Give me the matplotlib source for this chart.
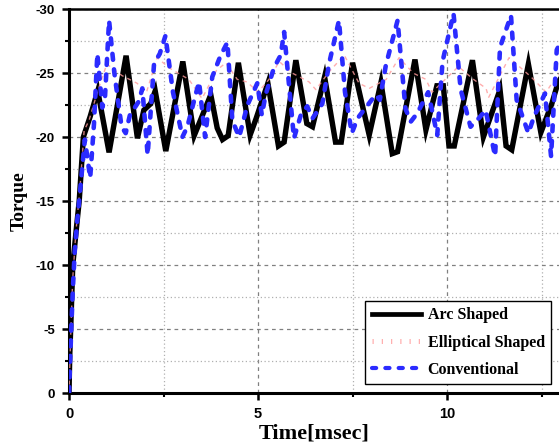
import matplotlib
matplotlib.use("Agg")
import matplotlib.pyplot as plt
from matplotlib.lines import Line2D
from matplotlib.ticker import MultipleLocator

# ---- data ----
arc_x = [0, 0.02, 0.05, 0.1, 0.2, 0.27, 0.38, 0.56, 0.76, 1.06, 1.51, 1.81, 1.98, 2.16, 2.28,
         2.56, 3.01, 3.31, 3.53, 3.75, 3.92, 4.06, 4.21, 4.48, 4.79, 4.95, 5.26, 5.54, 5.69,
         6.0, 6.29, 6.44, 6.76, 7.05, 7.2, 7.5, 7.94, 8.25, 8.55, 8.69, 9.15, 9.44, 9.73, 9.9,
         10.05, 10.19, 10.67, 10.96, 11.4, 11.56, 11.71, 12.15, 12.48, 12.77, 12.94, 13.1]
arc_y = [0, -3, -5.5, -10, -13, -15, -20, -21.6, -23.6, -18.8, -26.35, -19.9, -22.1, -22.6, -23.6,
         -18.9, -25.9, -20.1, -21.7, -23.3, -20.7, -19.8, -20.1, -25.8, -20.15, -21.45, -24.2, -19.3, -19.6,
         -26.0, -21.05, -20.8, -24.7, -19.6, -19.6, -25.8, -20.15, -24.25, -18.7, -18.85, -26.05, -20.55, -24.0, -24.0,
         -19.3, -19.3, -26.0, -20.0, -23.7, -19.3, -19.0, -25.7, -20.35, -22.6, -24.3, -25.0]

ell_x = [0, 0.05, 0.1, 0.18, 0.29, 0.4, 0.53, 0.75, 1.0, 1.4, 1.8, 2.05, 2.33, 2.65, 3.17, 3.52,
         3.9, 4.15, 4.45, 4.71, 5.0, 5.29, 5.56, 5.9, 6.35, 6.53, 6.88, 7.28, 7.67, 7.94, 8.39,
         8.73, 9.1, 9.44, 9.6, 10.3, 10.7, 11.03, 11.1, 11.64, 12.22, 12.62, 12.88, 13.1]
ell_y = [0, -5, -9, -12.5, -16, -20.5, -21.3, -23.5, -25.7, -24.8, -24.2, -23.5, -26.2, -25.4, -24.5, -23.0,
         -25.2, -25.8, -24.5, -24.3, -23.5, -24.5, -25.9, -25.0, -24.3, -23.7, -25.1, -26.4, -24.2, -23.8, -24.5,
         -26.2, -25.0, -24.5, -23.5, -25.5, -24.5, -23.8, -23.1, -26.2, -24.7, -23.5, -24.7, -25.2]

conv_x = [0, 0.03, 0.06, 0.1, 0.15, 0.22, 0.3, 0.42, 0.56, 0.66, 0.75, 0.88, 0.95, 1.06, 1.2,
          1.39, 1.5, 1.61, 1.85, 1.94, 2.08, 2.25, 2.4, 2.55, 2.75, 3.0, 3.13, 3.33, 3.44, 3.6,
          3.79, 4.0, 4.19, 4.32, 4.5, 4.72, 4.98, 5.1, 5.2, 5.42, 5.6, 5.69, 5.95, 6.13, 6.3,
          6.44, 6.7, 6.88, 7.14, 7.3, 7.48, 7.63, 7.85, 8.11, 8.22, 8.38, 8.69, 8.9, 9.04, 9.21,
          9.5, 9.74, 9.88, 10.17, 10.36, 10.62, 10.85, 11.02, 11.15, 11.27, 11.4, 11.69, 11.84,
          12.15, 12.3, 12.59, 12.75, 12.9, 13.1]
conv_y = [0, -2.5, -5, -8, -11, -13.5, -16, -19.8, -16.8, -21, -26.5, -22.3, -23, -29.1, -25,
          -20.8, -20.3, -21.7, -22.8, -23.8, -18.6, -25.75, -26.5, -27.9, -23.5, -20.0, -20.8, -23.1, -24.3, -20.0,
          -24.7, -26.3, -27.4, -21.3, -20.0, -22.5, -24.2, -21.7, -23.3, -25.4, -26.4, -28.2, -19.9, -21.7, -22.4,
          -21.45, -22.6, -25.75, -29.1, -23.5, -20.3, -21.45, -22.3, -23.3, -22.9, -25.6, -29.1, -22.2, -21.2, -21.85,
          -23.5, -20.15, -25.9, -29.65, -23.7, -20.8, -21.5, -22.1, -20.2, -18.5, -27.0, -29.5, -22.9,
          -20.3, -21.6, -23.4, -18.5, -26.8, -28.0]

labels = ["Arc Shaped", "Elliptical Shaped", "Conventional"]
x_ticks = [0, 5, 10]
y_ticks = [0, -5, -10, -15, -20, -25, -30]

W, H = 559, 446
fig = plt.figure(figsize=(W / 100, H / 100), dpi=100)
ax = fig.add_axes([69 / W, 1 - 393 / H, (W - 69) / W, 384 / H])

blue = '#2b2bff'
pink = '#ff9a9a'
ax.plot(arc_x, arc_y, color='black', lw=3.9, solid_joinstyle='miter', zorder=3)
ax.plot(ell_x, ell_y, color=pink, lw=1.0, dashes=(3, 3), alpha=0.8, zorder=4)
ax.plot(conv_x, conv_y, color=blue, lw=3.3, dashes=(1.3, 2.1), dash_capstyle='round', zorder=5)

ax.set_xlim(0, 12.96)
ax.set_ylim(0, -30)

ax.xaxis.set_minor_locator(MultipleLocator(2.5))
ax.yaxis.set_minor_locator(MultipleLocator(2.5))
ax.set_xticks(x_ticks)
ax.set_yticks(y_ticks)
ax.set_xticklabels([str(v) for v in x_ticks], fontfamily='Liberation Sans', fontweight='bold', fontsize=10.5)
ax.set_yticklabels([str(v) for v in y_ticks], fontfamily='Liberation Sans', fontweight='bold', fontsize=9.5)

ax.grid(True, which='major', color='#808080', lw=0.9, linestyle=(0, (3, 3)), zorder=0)
ax.grid(True, which='minor', color='#b0b0b0', lw=0.9, linestyle=(0, (1, 2)), zorder=0)
ax.set_axisbelow(True)

ax.tick_params(which='major', direction='out', length=5, width=1.8, pad=5, top=False, right=False)
ax.tick_params(which='minor', direction='out', length=3, width=1.5, top=False, right=False)

for s in ['left', 'bottom']:
    ax.spines[s].set_linewidth(2.2)
ax.spines['top'].set_linewidth(1.8)
ax.spines['right'].set_visible(False)

ax.set_xlabel("Time[msec]", fontfamily='Liberation Serif', fontweight='bold', fontsize=16, labelpad=2)
ax.set_ylabel("Torque", fontfamily='Liberation Serif', fontweight='bold', fontsize=14, labelpad=6)

handles = [Line2D([], [], color='black', lw=3.4),
           Line2D([], [], color='#ffb0b0', lw=3.6, dashes=(0.25, 1.6)),
           Line2D([], [], color=blue, lw=3.0, dashes=(1.0, 2.2), dash_capstyle='round')]
leg = ax.legend(handles, labels, loc='lower right', bbox_to_anchor=(0.984, 0.023),
                borderaxespad=0, prop={'family': 'Liberation Serif', 'weight': 'bold', 'size': 11.5},
                handlelength=3.1, handletextpad=0.4, labelspacing=0.7, borderpad=0.4,
                fancybox=False, framealpha=1, edgecolor='black')
leg.get_frame().set_linewidth(1.0)

fig.savefig("out.png", dpi=100)
